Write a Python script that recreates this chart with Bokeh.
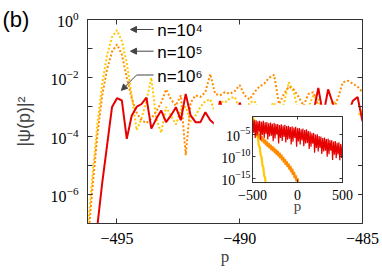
from bokeh.plotting import figure
from bokeh.models import (FixedTicker, LogAxis, LinearAxis, Label, Arrow, NormalHead,
                          CustomJSTickFormatter)
from bokeh.embed import file_html
from bokeh.resources import INLINE

# ---------------- data (main panel) ----------------
p_grid = [-496.2, -496.0, -495.8, -495.6, -495.4, -495.2, -495.0, -494.8, -494.6, -494.4,
          -494.2, -494.0, -493.8, -493.6, -493.4, -493.2, -493.0, -492.8, -492.6, -492.4,
          -492.2, -492.0, -491.8, -491.6, -491.4, -491.2, -491.0, -490.8, -490.6, -490.4,
          -490.2, -490.0, -489.8, -489.6, -489.4, -489.2, -489.0, -488.8, -488.6, -488.4,
          -488.2, -488.0, -487.8, -487.6, -487.4, -487.2, -487.0, -486.8, -486.6, -486.4,
          -486.2, -486.0, -485.8, -485.6, -485.4, -485.2, -485.0]

psi_n1e4 = [5.0e-8, 4.0e-6, 2.5e-4, 6.3e-3, 6.3e-2, 0.25, 0.43, 0.18, 3.2e-2, 2.5e-3,
            1.6e-4, 4.0e-4, 1.6e-3, 1.0e-2, 4.0e-4, 1.3e-4, 1.0e-3, 5.0e-4, 2.5e-4, 8.0e-4,
            1.0e-3, 3.2e-4, 5.0e-4, 1.0e-3, 1.6e-3, 1.8e-3, 6.3e-4, 1.6e-3, 1.4e-3, 2.0e-3,
            2.2e-3, 8.0e-4, 5.0e-4, 1.4e-3, 1.6e-3, 6.3e-4, 4.0e-4, 1.0e-3, 1.4e-3, 5.0e-4,
            1.3e-3, 7.0e-3, 3.2e-3, 6.3e-4, 3.2e-4, 1.0e-3, 2.5e-3, 1.8e-3, 5.0e-4, 8.0e-4,
            1.6e-3, 1.0e-3, 4.0e-4, 6.3e-4, 1.1e-3, 5.0e-4, 8.0e-4]

psi_n1e5 = [1.6e-8, 1.6e-6, 1.0e-4, 2.5e-3, 2.0e-2, 7.9e-2, 0.14, 6.3e-2, 1.0e-2, 2.0e-3,
            6.3e-4, 3.5e-4, 2.8e-4, 4.0e-4, 7.0e-4, 1.4e-3, 4.0e-3, 1.8e-3, 1.1e-3, 2.5e-3,
            2.2e-5, 1.4e-3, 2.5e-3, 2.2e-3, 3.2e-3, 1.35e-2, 2.8e-3, 2.5e-3, 3.2e-3, 2.8e-3,
            3.5e-3, 5.6e-3, 2.5e-3, 1.8e-3, 3.2e-3, 5.0e-3, 6.3e-3, 1.0e-2, 1.26e-2, 1.26e-3,
            2.8e-3, 5.0e-3, 4.0e-3, 2.2e-3, 1.1e-3, 2.8e-3, 3.2e-3, 1.1e-3, 6.3e-4, 5.0e-4,
            8.0e-4, 2.0e-3, 7.0e-3, 7.9e-3, 6.3e-3, 5.0e-3, 3.2e-3]

psi_n1e6 = [1.0e-11, 1.0e-9, 8.0e-8, 2.5e-6, 5.0e-5, 1.0e-3, 2.0e-3, 1.66e-3, 8.0e-5, 5.0e-4,
            1.0e-3, 1.26e-3, 2.1e-3, 1.8e-4, 3.9e-4, 7.6e-4, 3.0e-4, 5.1e-4, 9.8e-4, 3.5e-4,
            2.8e-3, 5.1e-4, 3.0e-4, 3.0e-4, 6.6e-4, 3.5e-4, 2.5e-4, 1.6e-3, 3.2e-4, 5.0e-4,
            2.5e-4, 1.4e-3, 4.0e-4, 2.5e-4, 5.0e-4, 3.2e-4, 2.0e-4, 4.0e-4, 2.5e-4, 5.0e-4,
            3.2e-4, 2.0e-4, 4.0e-4, 2.5e-4, 5.0e-4, 3.2e-4, 6.3e-4, 4.5e-3, 5.0e-4, 4.0e-3,
            1.26e-3, 3.2e-4, 2.5e-4, 5.0e-4, 1.6e-3, 2.2e-3, 3.2e-4]

x_ticks_main = [-495, -490, -485]
y_ticks_main = [1e-6, 1e-4, 1e-2, 1e0]
y_minor_main = [1e-5, 1e-3, 1e-1]

# ---------------- data (inset) ----------------
p_in_n1e6 = [-500, -490, -480, -470, -460, -450, -440, -430, -420, -410,
             -400, -390, -380, -370, -360, -350, -340, -330, -320, -310,
             -300, -290, -280, -270, -260, -250, -240, -230, -220, -210,
             -200, -190, -180, -170, -160, -150, -140, -130, -120, -110,
             -100, -90, -80, -70, -60, -50, -40, -30, -20, -10,
             0, 10, 20, 30, 40, 50, 60, 70, 80, 90,
             100, 110, 120, 130, 140, 150, 160, 170, 180, 190,
             200, 210, 220, 230, 240, 250, 260, 270, 280, 290,
             300, 310, 320, 330, 340, 350, 360, 370, 380, 390,
             400, 410, 420, 430, 440, 450, 460, 470, 480, 490, 500]
in_n1e6 = [2.5e-2, 2.2e-5, 1.3e-2, 1.3e-6, 1.4e-2, 5.0e-6, 7.9e-3, 3.5e-5, 1.1e-2, 4.0e-7,
           6.3e-3, 6.3e-6, 1.0e-2, 1.4e-6, 5.0e-3, 1.1e-5, 5.6e-3, 6.3e-7, 2.8e-3, 2.8e-6,
           4.5e-3, 4.5e-6, 2.2e-3, 2.5e-7, 3.5e-3, 1.0e-6, 2.0e-3, 7.1e-6, 2.0e-3, 7.1e-8,
           1.1e-3, 1.3e-6, 1.6e-3, 2.8e-7, 8.9e-4, 2.2e-6, 1.3e-3, 1.3e-7, 7.1e-4, 5.0e-7,
           7.9e-4, 8.9e-7, 4.0e-4, 4.5e-8, 5.6e-4, 1.8e-7, 3.2e-4, 1.3e-6, 4.5e-4, 1.3e-8,
           2.2e-4, 2.0e-7, 2.5e-4, 4.5e-8, 1.3e-4, 3.5e-7, 1.8e-4, 1.8e-8, 8.9e-5, 7.1e-8,
           1.3e-4, 1.0e-7, 5.0e-5, 4.0e-9, 4.0e-5, 1.3e-8, 1.6e-5, 6.3e-8, 1.8e-5, 5.6e-10,
           7.9e-6, 7.1e-9, 8.9e-6, 1.1e-9, 3.5e-6, 7.1e-9, 2.8e-6, 3.2e-10, 1.3e-6, 1.1e-9,
           1.6e-6, 1.6e-9, 7.9e-7, 7.1e-11, 1.0e-6, 2.8e-10, 4.5e-7, 1.6e-9, 4.0e-7, 1.4e-11,
           2.0e-7, 2.0e-10, 2.5e-7, 3.5e-11, 1.0e-7, 2.5e-10, 1.3e-7, 1.1e-11, 5.6e-8, 4.0e-11,
           5.0e-8]

p_in_n1e5 = [-500, -490, -480, -470, -460, -450, -440, -430, -420, -410,
             -400, -390, -380, -370, -360, -350, -340, -330, -320, -310,
             -300, -290, -280, -270, -260, -250, -240, -230, -220, -210,
             -200, -190, -180, -170, -160, -150, -140, -130, -120, -110,
             -100, -90, -80, -70, -60, -50, -40, -30, -20, -10, 0, 10, 20]
in_n1e5 = [3.2e-2, 6.3e-4, 1.6e-3, 4.0e-5, 1.3e-4, 6.3e-6, 3.2e-5, 1.8e-6, 1.0e-5, 5.6e-7,
           3.2e-6, 2.0e-7, 1.1e-6, 7.9e-8, 5.0e-7, 3.2e-8, 2.0e-7, 1.3e-8, 8.9e-8, 6.3e-9,
           4.0e-8, 2.5e-9, 1.8e-8, 1.3e-9, 7.9e-9, 5.0e-10, 3.2e-9, 2.0e-10, 1.4e-9, 8.9e-11,
           5.6e-10, 3.2e-11, 2.0e-10, 1.1e-11, 6.3e-11, 3.5e-12, 2.0e-11, 1.1e-12, 6.3e-12, 3.5e-13,
           2.0e-12, 1.0e-13, 5.6e-13, 2.5e-14, 1.3e-13, 5.6e-15, 2.5e-14, 1.0e-15, 4.0e-15, 1.8e-16,
           7.9e-16, 3.2e-17, 1.3e-16]

p_in_n1e4 = [-500, -490, -480, -470, -460, -450, -440, -430, -420, -410, -400, -390, -380,
             -370, -360, -350, -340]
in_n1e4 = [0.63, 2.0e-2, 1.6e-2, 3.2e-4, 2.0e-4, 3.2e-6, 2.0e-6, 2.5e-8, 1.3e-8, 1.6e-10,
           7.9e-11, 7.9e-13, 3.2e-13, 3.2e-15, 1.3e-15, 1.3e-17, 5.0e-18]

x_ticks_in = [-500, 0, 500]
y_ticks_in = [1e-15, 1e-10, 1e-5]

# ---------------- styles ----------------
YELLOW = "#ffc800"
ORANGE = "#ff8c00"
RED = "#e60000"
FRAME = "#333333"
SERIF = "Liberation Serif"
SANS = "Liberation Sans"
BLANK = CustomJSTickFormatter(code="return ''")


def style_axis(ax, tick_len=5, font_size="16px"):
    ax.axis_line_color = FRAME
    ax.major_tick_line_color = FRAME
    ax.minor_tick_line_color = FRAME
    ax.major_tick_in = tick_len
    ax.major_tick_out = 0
    ax.minor_tick_in = tick_len
    ax.minor_tick_out = 0
    ax.major_label_text_font = SERIF
    ax.major_label_text_font_size = font_size
    ax.major_label_text_color = "black"


# ---------------- main figure ----------------
p = figure(frame_width=275, frame_height=204, x_range=(-496.2, -485.0), y_range=(1e-7, 1.0),
           y_axis_type="log", output_backend="svg", toolbar_location=None,
           min_border_left=87, min_border_right=20, min_border_top=19, min_border_bottom=51,
           background_fill_color="white", border_fill_color="white")
p.styles = {"position": "absolute", "left": "0px", "top": "0px"}
p.outline_line_color = FRAME
p.xgrid.visible = False
p.ygrid.visible = False

p.xaxis.ticker = FixedTicker(ticks=x_ticks_main, minor_ticks=[])
p.yaxis.ticker = FixedTicker(ticks=y_ticks_main, minor_ticks=y_minor_main)
style_axis(p.xaxis[0])
style_axis(p.yaxis[0])
p.xaxis.major_label_standoff = 9
p.yaxis.major_label_standoff = 9
p.xaxis.axis_label = "p"
p.xaxis.axis_label_text_font = SERIF
p.xaxis.axis_label_text_font_size = "17px"
p.xaxis.axis_label_text_font_style = "normal"
p.xaxis.axis_label_standoff = 0
p.yaxis.axis_label = "|ψ(p)|²"
p.yaxis.axis_label_text_font = SANS
p.yaxis.axis_label_text_font_size = "18px"
p.yaxis.axis_label_text_font_style = "normal"
p.yaxis.axis_label_standoff = 14

top_ax = LinearAxis(ticker=FixedTicker(ticks=x_ticks_main, minor_ticks=[]), formatter=BLANK,
                    major_label_standoff=0)
style_axis(top_ax)
p.add_layout(top_ax, "above")
right_ax = LogAxis(ticker=FixedTicker(ticks=y_ticks_main, minor_ticks=y_minor_main),
                   formatter=BLANK, major_label_standoff=0)
style_axis(right_ax)
p.add_layout(right_ax, "right")

p.line(p_grid, psi_n1e4, line_color=YELLOW, line_width=2, line_dash="2 2")
p.line(p_grid, psi_n1e5, line_color=ORANGE, line_width=2, line_dash="2 2")
p.line(p_grid, psi_n1e6, line_color=RED, line_width=2)

ARROW = "#444444"
for ys in (0.454, 0.0817):
    p.add_layout(Arrow(end=NormalHead(size=6, fill_color=ARROW, line_color=ARROW),
                       x_start=-493.51, y_start=ys, x_end=-494.45, y_end=ys,
                       line_color=ARROW, line_width=1))
p.add_layout(Arrow(end=None, x_start=-493.51, y_start=0.01245, x_end=-494.2, y_end=0.01245,
                   line_color=ARROW, line_width=1))
p.add_layout(Arrow(end=NormalHead(size=6, fill_color=ARROW, line_color=ARROW),
                   x_start=-494.2, y_start=0.01245, x_end=-494.82, y_end=3.7e-3,
                   line_color=ARROW, line_width=1))

for txt, yy in (("n=10⁴", 0.42), ("n=10⁵", 0.074), ("n=10⁶", 0.0112)):
    p.add_layout(Label(x=-493.36, y=yy, text=txt, text_font=SANS, text_font_size="17px",
                       text_baseline="middle", text_align="left", text_color="black"))

# ---------------- panel tag "(b)" (tiny transparent figure in the top-left corner) ----------------
tag = figure(width=36, height=32, x_range=(0, 1), y_range=(0, 1), output_backend="svg",
             toolbar_location=None, x_axis_location=None, y_axis_location=None,
             min_border=0, background_fill_alpha=0, border_fill_alpha=0)
tag.styles = {"position": "absolute", "left": "2px", "top": "3px", "z-index": "3"}
tag.outline_line_color = None
tag.xgrid.visible = False
tag.ygrid.visible = False
tag.add_layout(Label(x=0, y=0.5, text="(b)", text_font=SANS, text_font_size="22px",
                     text_baseline="middle", text_align="left", text_color="black"))

# ---------------- inset ----------------
ins = figure(frame_width=90, frame_height=66, x_range=(-500, 500), y_range=(1e-16, 1e-1),
             y_axis_type="log", output_backend="svg", toolbar_location=None,
             min_border_left=39, min_border_right=16, min_border_top=12, min_border_bottom=36,
             background_fill_color="white", border_fill_color="white")
ins.styles = {"position": "absolute", "left": "213px", "top": "104px", "z-index": "2"}
ins.outline_line_color = FRAME
ins.xgrid.visible = False
ins.ygrid.visible = False
ins.xaxis.ticker = FixedTicker(ticks=x_ticks_in, minor_ticks=[])
ins.yaxis.ticker = FixedTicker(ticks=y_ticks_in, minor_ticks=[])
style_axis(ins.xaxis[0], tick_len=3, font_size="14px")
style_axis(ins.yaxis[0], tick_len=3, font_size="14px")
ins.xaxis.major_label_standoff = 7
ins.yaxis.major_label_standoff = 2
ins.xaxis.axis_label = "p"
ins.xaxis.axis_label_text_font = SERIF
ins.xaxis.axis_label_text_font_size = "15px"
ins.xaxis.axis_label_text_font_style = "normal"
ins.xaxis.axis_label_standoff = -5
ins_top = LinearAxis(ticker=FixedTicker(ticks=x_ticks_in, minor_ticks=[]), formatter=BLANK,
                     major_label_standoff=0)
style_axis(ins_top, tick_len=3, font_size="14px")
ins.add_layout(ins_top, "above")
ins_right = LogAxis(ticker=FixedTicker(ticks=y_ticks_in, minor_ticks=[]), formatter=BLANK,
                    major_label_standoff=0)
style_axis(ins_right, tick_len=3, font_size="14px")
ins.add_layout(ins_right, "right")

ins.line(p_in_n1e4, in_n1e4, line_color=YELLOW, line_width=2.2)
ins.line(p_in_n1e5, in_n1e5, line_color=ORANGE, line_width=2.5)
ins.line(p_in_n1e6, in_n1e6, line_color=RED, line_width=1.2)

open("out.html", "w").write(file_html([p, ins, tag], INLINE))
